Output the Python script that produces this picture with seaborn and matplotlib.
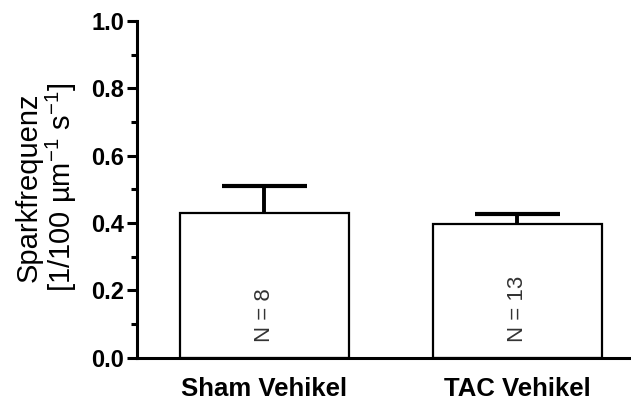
import matplotlib
matplotlib.use("Agg")
import matplotlib.pyplot as plt
import seaborn as sns
import pandas as pd
import numpy as np
from matplotlib.ticker import MultipleLocator, FormatStrFormatter

groups = ["Sham Vehikel", "TAC Vehikel"]
means = [0.431, 0.398]
sem = [0.080, 0.029]
n_labels = ["N = 8", "N = 13"]

sns.set_theme(style="ticks")
plt.rcParams["font.family"] = ["Liberation Sans", "DejaVu Sans"]
plt.rcParams["mathtext.fontset"] = "custom"
plt.rcParams["mathtext.rm"] = "Liberation Sans"

df = pd.DataFrame({"group": groups, "value": means})

fig = plt.figure(figsize=(6.31, 4.03), dpi=100)
ax = fig.add_axes([0.217, 0.112, 0.781, 0.836])

sns.barplot(data=df, x="group", y="value", ax=ax, color="white",
            edgecolor="black", linewidth=1.6, width=0.668, errorbar=None,
            saturation=1)

# upward-only error bars (SEM) with a cap at the top
xpos = np.arange(len(groups))
tops = np.array(means) + np.array(sem)
ax.vlines(xpos, means, tops, colors="black", linewidth=2.8, zorder=3)
ax.hlines(tops, xpos - 0.168, xpos + 0.168, colors="black",
          linewidth=3.0, zorder=3)

for i, lab in enumerate(n_labels):
    ax.text(i, 0.047, lab, rotation=90, ha="center", va="bottom",
            fontsize=16, color="#333333")

ax.set_ylim(0, 1.0)
ax.set_xlim(-0.504, 1.445)
ax.yaxis.set_major_locator(MultipleLocator(0.2))
ax.yaxis.set_minor_locator(MultipleLocator(0.1))
ax.yaxis.set_major_formatter(FormatStrFormatter("%.1f"))

for s in ["top", "right"]:
    ax.spines[s].set_visible(False)
for s in ["left", "bottom"]:
    ax.spines[s].set_linewidth(2.2)
    ax.spines[s].set_color("black")

ax.tick_params(axis="y", which="major", length=7, width=2.2, labelsize=17,
               pad=2, color="black")
ax.tick_params(axis="y", which="minor", length=4, width=2.2, color="black")
ax.tick_params(axis="x", length=0, labelsize=18.5, pad=14)
for t in ax.get_yticklabels() + ax.get_xticklabels():
    t.set_fontweight("bold")
    t.set_color("black")

ax.set_xlabel("")
ax.set_ylabel("")
fig.text(46.5 / 631, 1 - 187.5 / 403,
         "Sparkfrequenz\n[1/100 µm$^{-1}$ s$^{-1}$]",
         rotation=90, ha="center", va="center", multialignment="center",
         fontsize=21, linespacing=1.05, color="black")

fig.savefig("out.png", dpi=100)
